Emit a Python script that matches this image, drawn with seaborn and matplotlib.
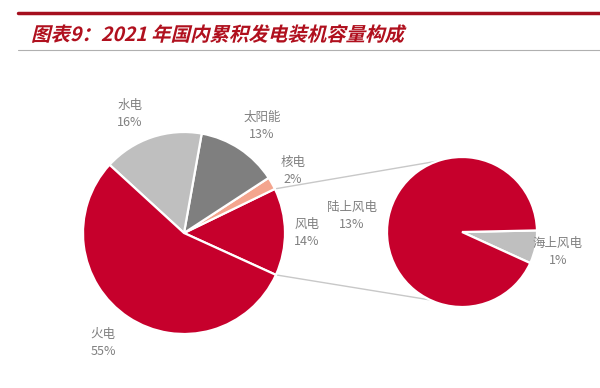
import numpy as np
import matplotlib
matplotlib.use("Agg")
import matplotlib.pyplot as plt
import matplotlib.patheffects as pe
from matplotlib.transforms import Affine2D
import seaborn as sns

# data
main_labels = ['风电', '核电', '太阳能', '水电', '火电']
main_values = [14, 2, 13, 16, 55]
main_colors = ['#C6002C', '#F4A58E', '#7F7F7F', '#BFBFBF', '#C6002C']

sub_labels = ['海上风电', '陆上风电']
sub_values = [1, 13]
sub_colors = ['#BFBFBF', '#C6002C']

title = '图表9：2021 年国内累积发电装机容量构成'

sns.set_theme(style='white')
plt.rcParams['font.family'] = ['Noto Sans CJK SC', 'DejaVu Sans']

W, H = 600, 388
fig = plt.figure(figsize=(W / 100, H / 100), dpi=100)
ax = fig.add_axes([0, 0, 1, 1])

# main pie
c1, r1 = (184, 155), 101
w1, _ = ax.pie(main_values, colors=main_colors, startangle=-24.5, counterclock=True,
               center=c1, radius=r1,
               wedgeprops=dict(edgecolor='white', linewidth=1.6))

# second pie (split of 风电)
c2, r2 = (462, 156), 75
w2, _ = ax.pie(sub_values, colors=sub_colors, startangle=-24.5, counterclock=True,
               center=c2, radius=r2,
               wedgeprops=dict(edgecolor='white', linewidth=1.6))

# connector lines from the 风电 wedge edges to the second pie
wind = w1[0]
for a1, a2 in [(wind.theta2, 109), (wind.theta1, 245)]:
    p1 = (c1[0] + r1 * np.cos(np.radians(a1)), c1[1] + r1 * np.sin(np.radians(a1)))
    p2 = (c2[0] + r2 * np.cos(np.radians(a2)), c2[1] + r2 * np.sin(np.radians(a2)))
    ax.plot([p1[0], p2[0]], [p1[1], p2[1]], color='#C8C8C8', lw=1, zorder=0)

ax.set_xlim(0, W)
ax.set_ylim(0, H)
ax.set_aspect('equal')
ax.axis('off')

# data labels
label_pos = {'水电': (130, 274), '太阳能': (262, 262), '核电': (293, 217),
             '风电': (307, 155), '火电': (103, 45)}
for name, val in zip(main_labels, main_values):
    x, y = label_pos[name]
    ax.text(x, y, f'{name}\n{val}%', ha='center', va='center', fontsize=9,
            color='#808080', linespacing=1.4)

sub_pos = {'陆上风电': (352, 172), '海上风电': (558, 136)}
for name, val in zip(sub_labels, sub_values):
    x, y = sub_pos[name]
    ax.text(x, y, f'{name}\n{val}%', ha='center', va='center', fontsize=9,
            color='#808080', linespacing=1.4)

# header lines
fig.add_artist(plt.Line2D([18 / W, 1], [1 - 13 / H, 1 - 13 / H], color='#A50F1E', lw=2.5))
fig.add_artist(plt.Line2D([18 / W, 1], [1 - 50 / H, 1 - 50 / H], color='#B0B0B0', lw=0.8))


class Slant(pe.AbstractPathEffect):
    def __init__(self, y0, angle=14):
        super().__init__()
        self._t = Affine2D().translate(0, -y0).skew_deg(angle, 0).translate(0, y0)

    def draw_path(self, renderer, gc, tpath, affine, rgbFace=None):
        renderer.draw_path(gc, tpath, affine + self._t, rgbFace)


ty = 1 - 41 / H
fig.text(31 / W, ty, title, ha='left', va='baseline', fontsize=14, fontweight='bold',
         color='#B0101E', path_effects=[Slant(ty * H)])

fig.savefig('out.png', dpi=100)
